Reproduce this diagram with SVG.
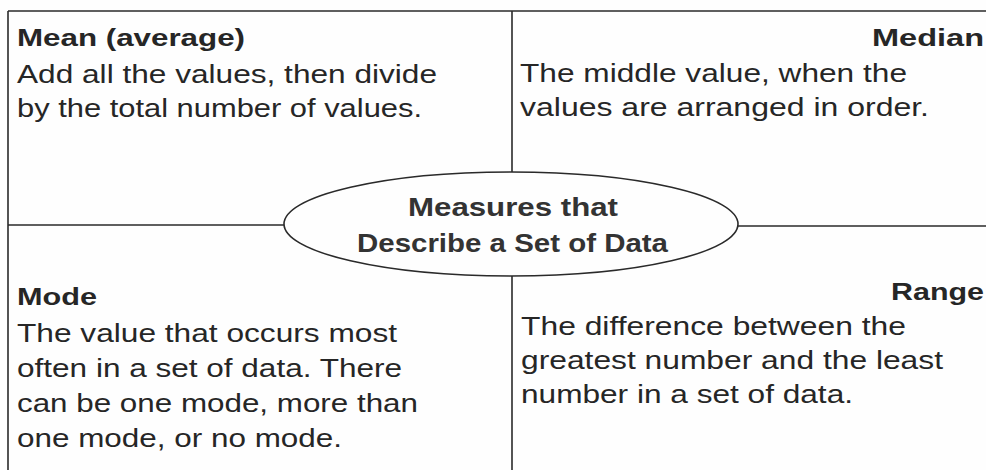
<svg xmlns="http://www.w3.org/2000/svg" width="986" height="470" viewBox="0 0 986 470">
<style>
.ln{stroke:#2a2a2a;stroke-width:1.6;fill:none}
.h{font-family:"Liberation Sans",Arial,sans-serif;font-weight:bold;font-size:24px;fill:#262626}
.b{font-family:"Liberation Sans",Arial,sans-serif;font-size:26px;fill:#262626}
.c{font-family:"Liberation Sans",Arial,sans-serif;font-weight:bold;font-size:25px;fill:#333}
</style>
<rect width="986" height="470" fill="#fefefe"/>
<g id="connectors">
<line class="ln" x1="8" y1="11" x2="986" y2="11"/>
<line class="ln" x1="8" y1="11" x2="8" y2="470"/>
<line class="ln" x1="512" y1="11" x2="512" y2="172"/>
<line class="ln" x1="512" y1="276" x2="512" y2="470"/>
<line class="ln" x1="8" y1="225" x2="284" y2="225"/>
<line class="ln" x1="738" y1="226" x2="986" y2="226"/>
</g>
<g id="center">
<ellipse class="ln" cx="511" cy="224" rx="227" ry="52"/>
<text class="c" x="408" y="216" textLength="210" lengthAdjust="spacingAndGlyphs">Measures that</text>
<text class="c" x="357" y="252" textLength="311" lengthAdjust="spacingAndGlyphs">Describe a Set of Data</text>
</g>
<g id="mean">
<text class="h" x="17" y="46" textLength="228" lengthAdjust="spacingAndGlyphs">Mean (average)</text>
<text class="b" x="17" y="83" textLength="420" lengthAdjust="spacingAndGlyphs">Add all the values, then divide</text>
<text class="b" x="17" y="117" textLength="405" lengthAdjust="spacingAndGlyphs">by the total number of values.</text>
</g>
<g id="median">
<text class="h" x="872" y="46" textLength="112" lengthAdjust="spacingAndGlyphs">Median</text>
<text class="b" x="520" y="82" textLength="387" lengthAdjust="spacingAndGlyphs">The middle value, when the</text>
<text class="b" x="520" y="116" textLength="409" lengthAdjust="spacingAndGlyphs">values are arranged in order.</text>
</g>
<g id="mode">
<text class="h" x="17" y="305" textLength="80" lengthAdjust="spacingAndGlyphs">Mode</text>
<text class="b" x="17" y="342" textLength="380" lengthAdjust="spacingAndGlyphs">The value that occurs most</text>
<text class="b" x="17" y="377" textLength="385" lengthAdjust="spacingAndGlyphs">often in a set of data. There</text>
<text class="b" x="17" y="412" textLength="401" lengthAdjust="spacingAndGlyphs">can be one mode, more than</text>
<text class="b" x="17" y="447" textLength="325" lengthAdjust="spacingAndGlyphs">one mode, or no mode.</text>
</g>
<g id="range">
<text class="h" x="891" y="300" textLength="93" lengthAdjust="spacingAndGlyphs">Range</text>
<text class="b" x="521" y="335" textLength="385" lengthAdjust="spacingAndGlyphs">The difference between the</text>
<text class="b" x="521" y="369" textLength="422" lengthAdjust="spacingAndGlyphs">greatest number and the least</text>
<text class="b" x="521" y="403" textLength="332" lengthAdjust="spacingAndGlyphs">number in a set of data.</text>
</g>
</svg>
